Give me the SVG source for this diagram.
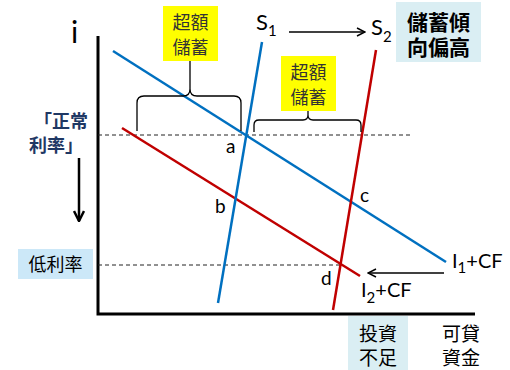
<svg xmlns="http://www.w3.org/2000/svg" width="510" height="370" viewBox="0 0 510 370">
<defs>
<style>
.lat{font-family:Lato,"Liberation Sans",sans-serif;fill:#000}
.cjk{font-family:"Noto Sans CJK TC","Noto Sans CJK JP",sans-serif}
.ax{stroke:#000;stroke-width:3;fill:none}
.dash{stroke:#222;stroke-width:1;stroke-dasharray:4 3;fill:none}
.blue{stroke:#0070c0;stroke-width:2.5;fill:none}
.red{stroke:#c00000;stroke-width:2.5;fill:none}
.brace{stroke:#000;stroke-width:1.3;fill:none}
.arr{stroke:#000;stroke-width:1.5;fill:none}
</style>
<marker id="ah" viewBox="0 0 10 10" refX="9" refY="5" markerWidth="10" markerHeight="10" markerUnits="userSpaceOnUse" orient="auto">
<path d="M1,1 L9,5 L1,9" fill="none" stroke="#000" stroke-width="1.5"/>
</marker>
<marker id="ah2" viewBox="0 0 12 12" refX="11" refY="6" markerWidth="12" markerHeight="12" markerUnits="userSpaceOnUse" orient="auto">
<path d="M1,1 L11,6 L1,11" fill="none" stroke="#000" stroke-width="2.5"/>
</marker>
</defs>
<rect width="510" height="370" fill="#fff"/>

<g id="axes">
<path class="ax" d="M98,36 V314 H475"/>
<text class="lat" x="71" y="43" font-size="30">i</text>
</g>

<g id="connectors">
<line class="dash" x1="98" y1="135" x2="412" y2="135"/>
<line class="dash" x1="98" y1="265" x2="341" y2="265"/>
<line class="blue" x1="113" y1="51" x2="446" y2="262"/>
<line class="red" x1="122" y1="128" x2="360" y2="276"/>
<line class="blue" x1="218" y1="303" x2="262" y2="42"/>
<line class="red" x1="333" y1="310" x2="376" y2="50"/>
<line class="arr" x1="289" y1="32" x2="365" y2="32" marker-end="url(#ah)"/>
<line class="arr" x1="444" y1="273" x2="368" y2="273" marker-end="url(#ah)"/>
<line x1="79" y1="158" x2="79" y2="221" stroke="#000" stroke-width="2.5" marker-end="url(#ah2)"/>
<path class="brace" d="M137,131 V103 Q137,96 144,96 H183 Q190,96 190,89 V61 M190,89 Q190,96 197,96 H234 Q241,96 241,103 V131"/>
<path class="brace" d="M254,132 V125 Q254,120 259,120 H303 Q308,120 308,115 V111 M308,115 Q308,120 313,120 H356 Q361,120 361,125 V132"/>
</g>

<g id="box-excess1">
<rect x="163" y="6" width="55" height="55" fill="#ffff00"/>
<text class="cjk" x="190.5" y="29" font-size="18" text-anchor="middle" fill="#333">超額<tspan x="190.5" dy="25">儲蓄</tspan></text>
</g>

<g id="box-excess2">
<rect x="281" y="56" width="55" height="55" fill="#ffff00"/>
<text class="cjk" x="308.5" y="79" font-size="18" text-anchor="middle" fill="#333">超額<tspan x="308.5" dy="25">儲蓄</tspan></text>
</g>

<g id="box-propensity">
<rect x="396" y="2" width="85" height="60" fill="#daeef3"/>
<text class="cjk" x="438.5" y="30" font-size="21" font-weight="bold" text-anchor="middle" fill="#000">儲蓄傾<tspan x="438.5" dy="25">向偏高</tspan></text>
</g>

<g id="label-normal-rate">
<text class="cjk" x="61" y="128" font-size="18" font-weight="bold" text-anchor="middle" fill="#1f3864">「正常<tspan x="56" dy="24">利率」</tspan></text>
</g>

<g id="box-low-rate">
<rect x="18" y="249" width="75" height="30" fill="#cce8f8"/>
<text class="cjk" x="55.5" y="271" font-size="18" text-anchor="middle" fill="#000">低利率</text>
</g>

<g id="box-underinvest">
<rect x="348" y="316" width="60" height="54" fill="#daeef3"/>
<text class="cjk" x="378" y="341" font-size="19" text-anchor="middle" fill="#000">投資<tspan x="378" dy="24">不足</tspan></text>
</g>

<g id="label-loanable">
<text class="cjk" x="461" y="341" font-size="19" text-anchor="middle" fill="#000">可貸<tspan x="461" dy="24">資金</tspan></text>
</g>

<g id="label-S1">
<text class="lat" x="256" y="30" font-size="22">S<tspan font-size="15" dy="6">1</tspan></text>
</g>
<g id="label-S2">
<text class="lat" x="371" y="35" font-size="22">S<tspan font-size="15" dy="7">2</tspan></text>
</g>
<g id="label-I1">
<text class="lat" x="452" y="268" font-size="20">I<tspan font-size="15" dy="5">1</tspan><tspan dy="-5">+CF</tspan></text>
</g>
<g id="label-I2">
<text class="lat" x="361" y="297" font-size="20">I<tspan font-size="15" dy="6">2</tspan><tspan dy="-6">+CF</tspan></text>
</g>

<g id="points">
<text class="lat" x="226" y="153" font-size="19">a</text>
<text class="lat" x="215" y="213" font-size="19">b</text>
<text class="lat" x="360" y="202" font-size="19">c</text>
<text class="lat" x="321" y="285" font-size="19">d</text>
</g>
</svg>
